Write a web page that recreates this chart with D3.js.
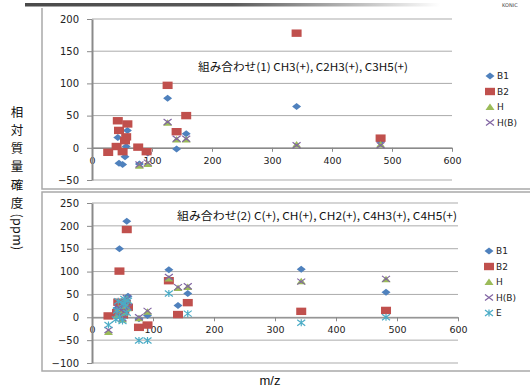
<!DOCTYPE html>
<html>
<head>
<meta charset="utf-8">
<script src="https://cdn.jsdelivr.net/npm/d3@7"></script>
<style>
  html, body { margin: 0; padding: 0; background: #fff; }
  svg { display: block; }
</style>
</head>
<body>
<svg id="chart" width="530" height="389"></svg>
<script>
// ---- data ----
const seriesNames = ["B1", "B2", "H", "H(B)", "E"];
const seriesColors = ["#4F81BD", "#C0504D", "#9BBB59", "#8064A2", "#4BACC6"];
const xTicks = [0, 100, 200, 300, 400, 500, 600];
const yTicksTop = [-50, 0, 50, 100, 150, 200];
const yTicksBottom = [-100, -50, 0, 50, 100, 150, 200, 250];

// combination 1: m/z positions and relative mass accuracy (ppm)
const mzTop = [27, 41, 43, 45, 51, 55, 57, 59, 77, 79, 91, 93, 126, 141, 157, 341, 481];
const b1Top = [null, null, 16, -24, -26, -14, 2, 27, null, -25, null, -8, 77, -2, 22, 64, 10];
const b2Top = [-7, 2, 42, 27, -6, 11, 17, 37, 1, null, -6, null, 97, 25, 50, 178, 15];
const hTop = [null, null, null, null, null, null, null, null, null, -28, null, -25, 39, 13, 13, 5, 5];
const hbTop = [null, null, null, null, null, null, null, null, null, -26, null, -23, 40, 14, 14, 4, 4];

// combination 2
const mzBottom = [27, 39, 41, 43, 45, 50, 51, 53, 55, 57, 59, 77, 91, 126, 141, 157, 343, 482];
const b1Bottom = [null, null, 20, 30, 150, null, 10, 25, 35, 210, 46, -3, 4, 104, 26, 52, 105, 55];
const b2Bottom = [3, null, 10, 33, 101, null, 5, 15, 30, 192, 22, -22, -17, 80, 6, 32, 13, 15];
const hBottom = [-32, null, 5, 20, 15, -5, 25, 10, 30, 40, 20, -2, 12, 85, 64, 66, 79, 83];
const hbBottom = [-28, null, 8, 22, 18, -2, 28, 12, 32, 42, 22, 0, 14, 88, 66, 68, 78, 84];
const eBottom = [-17, -5, 15, 35, 0, -8, 30, 40, 25, 10, 36, -51, -51, 52, null, 8, -12, 0];

const titleTop = "組み合わせ(1) CH3(+), C2H3(+), C3H5(+)";
const titleBottom = "組み合わせ(2) C(+), CH(+), CH2(+), C4H3(+), C4H5(+)";
const yTitleChars = ["相", "対", "質", "量", "確", "度"];
const yTitleUnit = "(ppm)";
const xTitle = "m/z";

// ---- drawing ----
const svg = d3.select("#chart");
const numFont = "'DejaVu Sans', Verdana, sans-serif";
const jpFont = "'Noto Sans CJK JP', 'Noto Sans', sans-serif";

// header band
const defs = svg.append("defs");
const grad = defs.append("linearGradient").attr("id", "band")
  .attr("x1", "0%").attr("x2", "100%");
grad.append("stop").attr("offset", "0%").attr("stop-color", "#4a4a4a");
grad.append("stop").attr("offset", "50%").attr("stop-color", "#5a5a5a");
grad.append("stop").attr("offset", "100%").attr("stop-color", "#ffffff");
svg.append("rect").attr("x", 25).attr("y", 3).attr("width", 415).attr("height", 3.5)
  .attr("fill", "url(#band)");
svg.append("text").attr("x", 502).attr("y", 7).attr("font-family", numFont)
  .attr("font-size", 5).attr("fill", "#444").text("KONIC");

// panel frames
const frameColor = "#a9a9a9";
svg.append("path").attr("d", "M42,8 V189 H530").attr("fill", "none")
  .attr("stroke", frameColor).attr("stroke-width", 1.5);
svg.append("path").attr("d", "M530,192 H42 V371 H530").attr("fill", "none")
  .attr("stroke", frameColor).attr("stroke-width", 1.5);

// marker shapes
function marker(g, i, cx, cy) {
  const c = seriesColors[i];
  if (i === 0) {
    g.append("path").attr("d", `M${cx - 4.5},${cy} L${cx},${cy - 3.5} L${cx + 4.5},${cy} L${cx},${cy + 3.5}Z`)
      .attr("fill", c);
  } else if (i === 1) {
    g.append("rect").attr("x", cx - 5).attr("y", cy - 3.7).attr("width", 10).attr("height", 7.4)
      .attr("fill", c);
  } else if (i === 2) {
    g.append("path").attr("d", `M${cx - 4.5},${cy + 3} L${cx},${cy - 3.5} L${cx + 4.5},${cy + 3}Z`)
      .attr("fill", c);
  } else if (i === 3) {
    g.append("path").attr("d", `M${cx - 4},${cy - 3} L${cx + 4},${cy + 3} M${cx - 4},${cy + 3} L${cx + 4},${cy - 3}`)
      .attr("stroke", c).attr("stroke-width", 1.2).attr("fill", "none");
  } else {
    g.append("path").attr("d", `M${cx - 4},${cy - 3} L${cx + 4},${cy + 3} M${cx - 4},${cy + 3} L${cx + 4},${cy - 3} M${cx},${cy - 3.5} V${cy + 3.5}`)
      .attr("stroke", c).attr("stroke-width", 1.2).attr("fill", "none");
  }
}

function panel(opts) {
  const { x, y, mz, series, yTicks, title, titleX, titleY, titleW, legendX, legendY } = opts;
  const g = svg.append("g");

  // gridlines
  g.append("g").selectAll("line").data(yTicks).join("line")
    .attr("x1", x.range()[0]).attr("x2", x.range()[1])
    .attr("y1", d => y(d)).attr("y2", d => y(d))
    .attr("stroke", "#ababab").attr("stroke-width", 1);

  // x axis along zero
  const xa = g.append("g").attr("transform", `translate(0,${y(0)})`)
    .call(d3.axisBottom(x).tickValues(xTicks).tickSize(4).tickSizeOuter(0).tickPadding(5));
  xa.select(".domain").attr("stroke", "#8a8a8a").attr("stroke-width", 1.2);
  xa.selectAll(".tick line").attr("stroke", "#8a8a8a");
  xa.selectAll("text").attr("font-family", numFont).attr("font-size", 9.5).attr("fill", "#222");

  // y axis
  const ya = g.append("g").attr("transform", `translate(${x(0)},0)`)
    .call(d3.axisLeft(y).tickValues(yTicks).tickSize(5).tickSizeOuter(0).tickPadding(8));
  ya.select(".domain").attr("stroke", "#8a8a8a").attr("stroke-width", 2);
  ya.selectAll(".tick line").attr("stroke", "#8a8a8a");
  ya.selectAll("text").attr("font-family", numFont).attr("font-size", 10).attr("fill", "#222");

  // annotation
  g.append("text").attr("x", titleX).attr("y", titleY)
    .attr("font-family", jpFont).attr("font-size", 11).attr("fill", "#111")
    .attr("textLength", titleW).attr("lengthAdjust", "spacingAndGlyphs")
    .text(title);

  // points, drawn series by series
  series.forEach((vals, i) => {
    const sg = g.append("g");
    vals.forEach((v, k) => {
      if (v === null) return;
      marker(sg, i, x(mz[k]), y(v));
    });
  });

  // legend
  series.forEach((vals, i) => {
    const ly = legendY + i * 15.5;
    marker(g, i, legendX, ly);
    g.append("text").attr("x", legendX + 7).attr("y", ly + 3.3)
      .attr("font-family", numFont).attr("font-size", 9).attr("fill", "#222")
      .text(seriesNames[i]);
  });
}

panel({
  x: d3.scaleLinear([0, 600], [92, 452]),
  y: d3.scaleLinear([-50, 200], [180, 19]),
  mz: mzTop,
  series: [b1Top, b2Top, hTop, hbTop],
  yTicks: yTicksTop,
  title: titleTop, titleX: 198, titleY: 71, titleW: 210,
  legendX: 490, legendY: 76
});

panel({
  x: d3.scaleLinear([0, 600], [92, 458]),
  y: d3.scaleLinear([-100, 250], [363, 203]),
  mz: mzBottom,
  series: [b1Bottom, b2Bottom, hBottom, hbBottom, eBottom],
  yTicks: yTicksBottom,
  title: titleBottom, titleX: 177, titleY: 220, titleW: 280,
  legendX: 489, legendY: 251
});

// vertical axis title in one text element: upright kanji stacked,
// then the unit glyphs turned sideways one after another
const titleSize = 12.5;
const pitch = 18.3;
const yt = svg.append("text")
  .attr("font-family", jpFont).attr("font-size", titleSize).attr("fill", "#111");
yTitleChars.forEach((c, i) => {
  yt.append("tspan").attr("x", 17).attr("y", 112 + i * pitch)
    .attr("dy", "0.36em").attr("text-anchor", "middle").text(c);
});
// measure each unit glyph's advance so they sit end to end
const probe = svg.append("text").attr("font-family", jpFont).attr("font-size", titleSize);
let uy = 112 + 5 * pitch + 10;
yTitleUnit.split("").forEach(c => {
  probe.text(c);
  const w = probe.node().getComputedTextLength();
  yt.append("tspan").attr("x", 12.5).attr("y", uy).attr("rotate", 90).text(c);
  uy += w + 0.3;
});
probe.remove();

svg.append("text").attr("x", 270).attr("y", 385).attr("text-anchor", "middle")
  .attr("font-family", "'Liberation Sans', Arial, sans-serif").attr("font-size", 13).attr("fill", "#111")
  .text(xTitle);
</script>
</body>
</html>
